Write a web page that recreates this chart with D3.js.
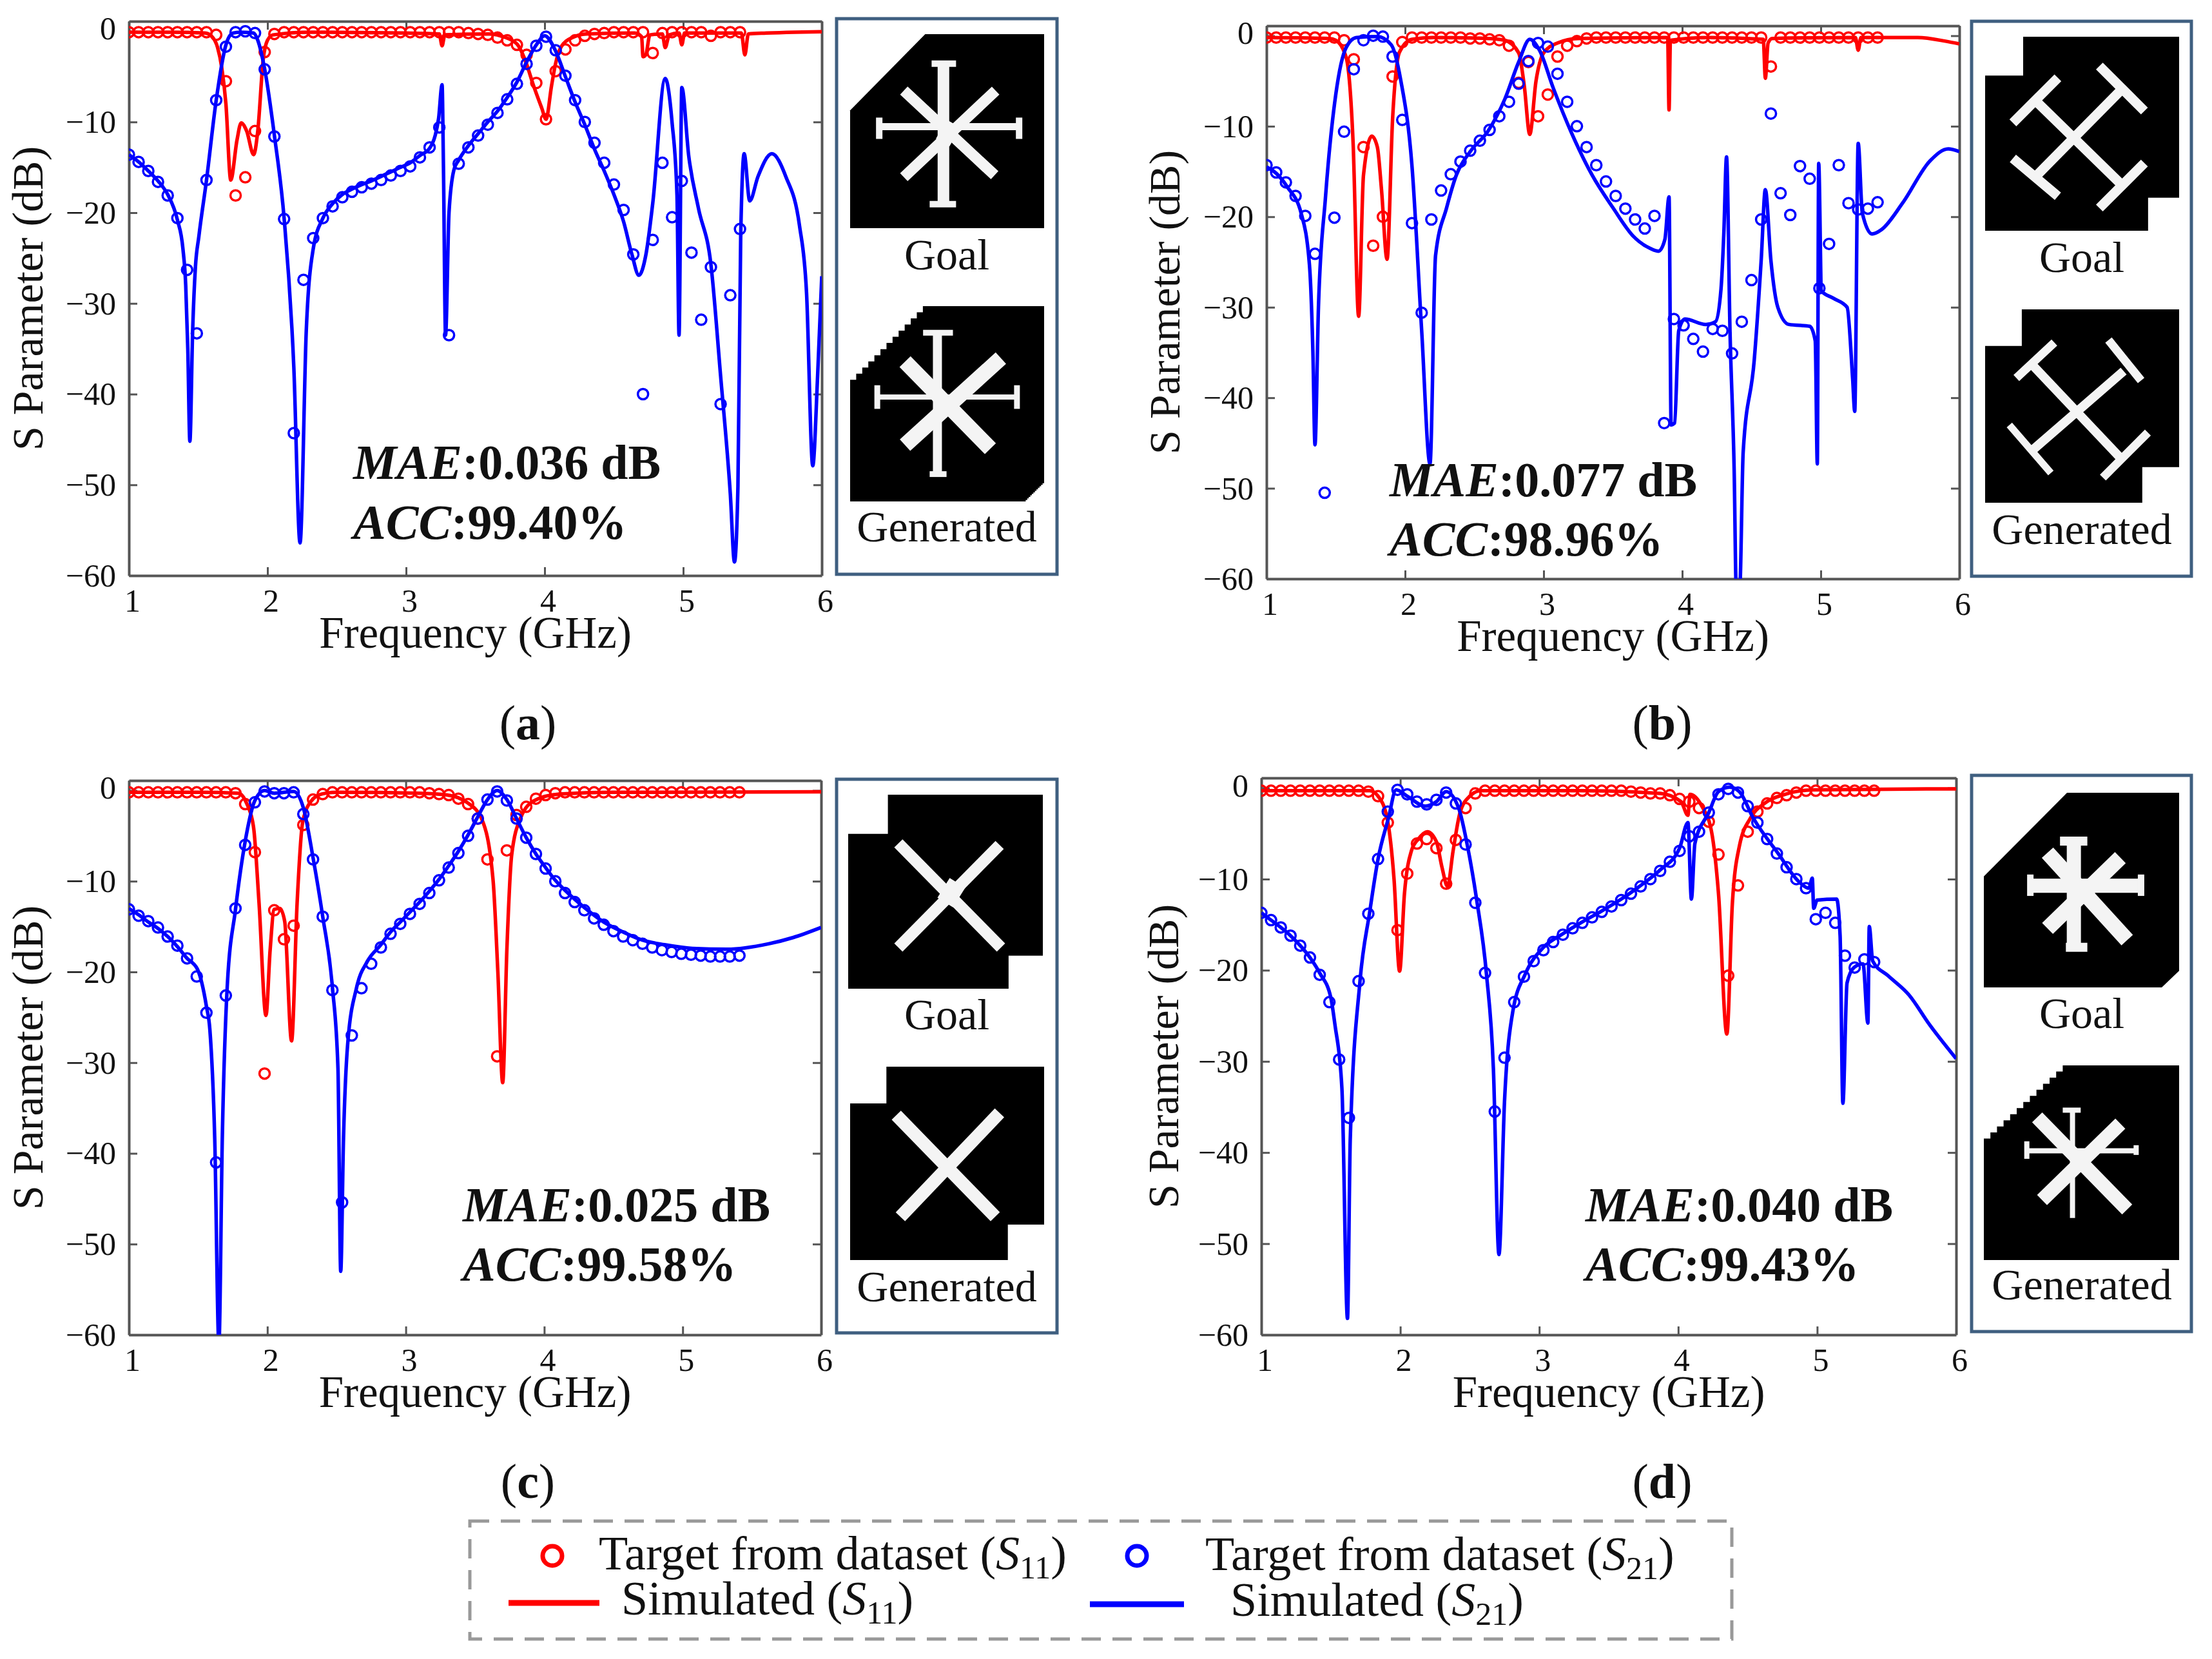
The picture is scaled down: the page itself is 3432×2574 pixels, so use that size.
<!DOCTYPE html>
<html>
<head>
<meta charset="utf-8">
<script src="https://d3js.org/d3.v7.min.js"></script>
<style>
  body { margin: 0; background: #fff; }
  text { font-family: "Liberation Serif", serif; fill: #111; }
</style>
</head>
<body>
<svg id="fig" width="3432" height="2574"></svg>
<script>
// values: frequency in GHz, level in dB
const xTicks = [1, 2, 3, 4, 5, 6];
const yTicks = [0, -10, -20, -30, -40, -50, -60];
const targetFreq = [1.00,1.07,1.14,1.21,1.28,1.35,1.42,1.49,1.56,1.63,1.70,1.77,1.84,1.91,1.98,2.05,2.12,2.19,2.26,2.33,2.40,2.47,2.54,2.61,2.68,2.75,2.82,2.89,2.96,3.03,3.10,3.17,3.24,3.31,3.38,3.45,3.52,3.59,3.66,3.73,3.80,3.87,3.94,4.01,4.08,4.15,4.22,4.29,4.36,4.43,4.50,4.57,4.64,4.71,4.78,4.85,4.92,4.99,5.06,5.13,5.20,5.27,5.34,5.41];

// panel (a)
const aS21Target = [-13.6,-14.4,-15.4,-16.6,-18.1,-20.6,-26.3,-33.3,-16.4,-7.6,-1.7,-0.1,0,-0.2,-4.2,-11.6,-20.7,-44.3,-27.4,-22.8,-20.6,-19.3,-18.3,-17.7,-17.2,-16.8,-16.4,-15.9,-15.4,-14.9,-13.9,-12.8,-10.6,-33.5,-14.6,-12.8,-11.5,-10.3,-9,-7.5,-5.8,-3.6,-1.6,-0.6,-2.1,-4.9,-7.6,-10,-12.3,-14.5,-16.9,-19.7,-24.6,-40,-23,-14.5,-20.5,-16.5,-24.4,-31.8,-26,-41.1,-29.1,-21.8];
const aS11Target = [-0.1,-0.1,-0.1,-0.1,-0.1,-0.1,-0.1,-0.1,-0.1,-0.4,-5.5,-18.1,-16.1,-11,-2.3,-0.3,-0.1,-0.1,-0.1,-0.1,-0.1,-0.1,-0.1,-0.1,-0.1,-0.1,-0.1,-0.1,-0.1,-0.1,-0.1,-0.1,-0.1,-0.1,-0.1,-0.2,-0.3,-0.4,-0.7,-1,-1.5,-2.6,-5.7,-9.7,-4.4,-2,-1,-0.5,-0.3,-0.2,-0.1,-0.1,-0.1,-0.1,-2.4,-0.2,-0.1,-0.1,-0.1,-0.1,-0.5,-0.1,-0.1,-0.1];
const aS21Sim = [[1,-13.6],[1.07,-14.4],[1.14,-15.4],[1.21,-16.5],[1.28,-18],[1.35,-20.8],[1.39,-24],[1.41,-28],[1.425,-35],[1.44,-45.2],[1.46,-33],[1.48,-26],[1.505,-22.6],[1.56,-16.4],[1.63,-7.6],[1.70,-1.5],[1.75,-0.2],[1.8,-0.1],[1.9,-0.2],[1.93,-1],[1.98,-4.2],[2.05,-11.5],[2.12,-20.6],[2.19,-37],[2.235,-56.4],[2.28,-33],[2.33,-24],[2.40,-20.6],[2.47,-19],[2.54,-18],[2.61,-17.4],[2.68,-16.9],[2.75,-16.5],[2.82,-16],[2.89,-15.5],[2.96,-15],[3.03,-14.5],[3.10,-13.7],[3.17,-12.9],[3.21,-11.5],[3.235,-9.6],[3.26,-5.9],[3.27,-15],[3.285,-33.5],[3.31,-20],[3.345,-15.3],[3.38,-14.2],[3.45,-12.6],[3.52,-11.3],[3.59,-10],[3.66,-8.8],[3.73,-7.3],[3.80,-5.6],[3.87,-3.4],[3.94,-1.5],[4.0,-0.5],[4.08,-2.2],[4.15,-5],[4.22,-7.8],[4.29,-10.3],[4.36,-13],[4.43,-15.4],[4.50,-18],[4.57,-21],[4.63,-24.6],[4.68,-26.9],[4.73,-24.7],[4.78,-19],[4.87,-5.2],[4.92,-10.1],[4.955,-18],[4.97,-33.5],[4.99,-6.2],[5.04,-13.75],[5.11,-19.5],[5.20,-25.7],[5.27,-38],[5.34,-51],[5.37,-58.5],[5.395,-50.2],[5.415,-22.6],[5.44,-13.5],[5.48,-18.7],[5.54,-16],[5.64,-13.5],[5.74,-16],[5.84,-21.5],[5.89,-28.8],[5.935,-47.9],[5.97,-38],[6,-27]];
const aS11Sim = [[1,-0.1],[1.3,-0.1],[1.55,-0.2],[1.60,-0.6],[1.64,-1.8],[1.67,-4],[1.70,-8],[1.735,-16.4],[1.78,-12],[1.81,-10.1],[1.85,-11],[1.90,-13.6],[1.93,-11],[1.97,-3],[2.0,-1],[2.04,-0.4],[2.3,-0.1],[3.0,-0.2],[3.24,-0.3],[3.26,-1.6],[3.28,-0.4],[3.6,-0.3],[3.7,-0.6],[3.8,-1.4],[3.86,-3.2],[3.92,-6],[3.98,-8.5],[4.01,-9.7],[4.05,-6],[4.08,-3.5],[4.12,-1.7],[4.2,-0.7],[4.3,-0.3],[4.65,-0.2],[4.70,-0.6],[4.71,-2.8],[4.73,-2.6],[4.76,-0.4],[4.85,-0.3],[4.87,-1.8],[4.9,-0.4],[4.97,-0.2],[4.99,-1.5],[5.01,-0.2],[5.42,-0.2],[5.445,-2.6],[5.47,-0.3],[5.6,-0.2],[5.8,-0.1],[6,-0.05]];

// panel (b)
const bS21Target = [-14.3,-15.1,-16.2,-17.7,-19.9,-24.1,-50.5,-20.1,-10.6,-3.7,-0.5,0,-0.1,-2.3,-9.3,-20.7,-30.6,-20.3,-17.1,-15.3,-13.9,-12.7,-11.6,-10.4,-8.9,-7.3,-5.3,-2.8,-0.8,-1.2,-4.2,-7.3,-10,-12.3,-14.3,-16.1,-17.7,-19.1,-20.3,-21.3,-19.9,-42.8,-31.3,-32,-33.5,-34.9,-32.4,-32.6,-35.1,-31.6,-27,-20.3,-8.6,-17.4,-19.8,-14.4,-15.8,-27.9,-23,-14.3,-18.5,-19.2,-19.1,-18.4];
const bS11Target = [-0.2,-0.2,-0.2,-0.2,-0.2,-0.2,-0.2,-0.2,-0.5,-2.6,-12.3,-23.2,-20,-4.5,-0.7,-0.2,-0.2,-0.2,-0.2,-0.2,-0.2,-0.3,-0.3,-0.4,-0.5,-1.1,-5.2,-2.9,-8.9,-6.5,-2.3,-1.1,-0.6,-0.3,-0.2,-0.2,-0.2,-0.2,-0.2,-0.2,-0.2,-0.2,-0.2,-0.2,-0.2,-0.2,-0.2,-0.2,-0.2,-0.2,-0.2,-0.2,-3.4,-0.2,-0.2,-0.2,-0.2,-0.2,-0.2,-0.2,-0.2,-0.2,-0.2,-0.2];
const bS21Sim = [[1,-14.5],[1.07,-15.2],[1.15,-16.7],[1.25,-19.6],[1.31,-25.3],[1.335,-35],[1.35,-45.2],[1.375,-30],[1.425,-18],[1.50,-6.5],[1.575,-1.3],[1.65,-0.2],[1.8,-0.1],[1.9,-1],[1.97,-5],[2.05,-14.4],[2.12,-32.6],[2.18,-47.3],[2.22,-24.3],[2.30,-19],[2.37,-15.4],[2.47,-12.8],[2.6,-10.5],[2.72,-7],[2.82,-2.9],[2.90,-0.4],[2.97,-1.6],[3.07,-5.8],[3.2,-10.7],[3.35,-15.4],[3.5,-19],[3.65,-22.2],[3.77,-23.5],[3.83,-23.8],[3.875,-22.5],[3.905,-17.8],[3.92,-43],[3.945,-42.8],[3.975,-32.6],[4.02,-31.3],[4.17,-31.9],[4.24,-31.6],[4.28,-28],[4.30,-22],[4.32,-13.4],[4.345,-32.7],[4.375,-48],[4.39,-61],[4.415,-61],[4.44,-46],[4.52,-35.8],[4.57,-24.8],[4.60,-17],[4.64,-24.8],[4.69,-30],[4.77,-31.9],[4.92,-32.1],[4.96,-33.7],[4.975,-47.3],[4.985,-14.1],[5.005,-28.2],[5.09,-29],[5.19,-30],[5.23,-37.9],[5.245,-41.5],[5.27,-11.9],[5.30,-19.6],[5.37,-21.9],[5.44,-21.4],[5.59,-18.5],[5.79,-13.8],[5.92,-12.5],[6,-12.8]];
const bS11Sim = [[1,-0.2],[1.45,-0.3],[1.5,-0.5],[1.575,-2.4],[1.625,-11.8],[1.665,-31],[1.70,-15.4],[1.76,-11.1],[1.8,-12.3],[1.83,-17],[1.87,-24.7],[1.91,-9.2],[1.96,-1.8],[2.05,-0.4],[2.2,-0.2],[2.6,-0.3],[2.72,-0.5],[2.82,-1.9],[2.86,-5.5],[2.9,-10.9],[2.945,-5],[3.0,-1.9],[3.1,-0.8],[3.25,-0.3],[3.895,-0.2],[3.905,-8.2],[3.915,-0.5],[4.2,-0.2],[4.585,-0.4],[4.6,-4.7],[4.62,-0.8],[4.65,-0.3],[5.25,-0.2],[5.27,-1.6],[5.29,-0.2],[5.7,-0.2],[5.9,-0.6],[6,-0.9]];

// panel (c)
const cS21Target = [-13.1,-13.8,-14.4,-15.1,-16.1,-17.1,-18.5,-20.5,-24.5,-41,-22.6,-13,-6,-1.3,-0.1,-0.3,-0.3,-0.2,-2.6,-7.6,-13.9,-22,-45.4,-27,-21.8,-19.1,-17.3,-15.8,-14.7,-13.6,-12.5,-11.3,-9.9,-8.5,-6.9,-5,-3.1,-1,-0.1,-1.1,-3.1,-5.2,-7,-8.6,-10,-11.3,-12.3,-13.2,-14.1,-14.8,-15.5,-16.1,-16.5,-16.9,-17.3,-17.6,-17.8,-18,-18.1,-18.2,-18.3,-18.3,-18.3,-18.2];
const cS11Target = [-0.2,-0.2,-0.2,-0.2,-0.2,-0.2,-0.2,-0.2,-0.2,-0.2,-0.2,-0.3,-1.5,-6.8,-31.2,-13.2,-16.4,-14.9,-3.8,-1,-0.4,-0.2,-0.2,-0.2,-0.2,-0.2,-0.2,-0.2,-0.2,-0.2,-0.2,-0.3,-0.4,-0.5,-0.9,-1.5,-3.1,-7.6,-29.3,-6.6,-2.7,-1.8,-0.9,-0.5,-0.3,-0.2,-0.2,-0.2,-0.2,-0.2,-0.2,-0.2,-0.2,-0.2,-0.2,-0.2,-0.2,-0.2,-0.2,-0.2,-0.2,-0.2,-0.2,-0.2];
const cS21Sim = [[1,-13],[1.07,-13.7],[1.14,-14.5],[1.21,-15.2],[1.28,-16.1],[1.35,-17.2],[1.42,-18.5],[1.495,-19.7],[1.56,-23.8],[1.585,-26.4],[1.62,-38.4],[1.65,-61],[1.675,-38],[1.71,-21.7],[1.77,-13.1],[1.84,-5.6],[1.91,-1.1],[1.98,0],[2.05,-0.3],[2.19,-0.1],[2.26,-1.9],[2.33,-7.4],[2.40,-13.9],[2.47,-21.7],[2.51,-30.6],[2.53,-53],[2.55,-38.4],[2.58,-28],[2.645,-21.7],[2.72,-18.9],[2.82,-17],[2.89,-15.6],[2.96,-14.5],[3.03,-13.4],[3.10,-12.3],[3.17,-11.1],[3.24,-9.8],[3.31,-8.3],[3.38,-6.7],[3.45,-4.9],[3.52,-2.9],[3.59,-1],[3.66,0],[3.73,-1],[3.80,-3.1],[3.87,-5.2],[3.94,-7],[4.01,-8.5],[4.08,-9.9],[4.15,-11],[4.29,-12.9],[4.43,-14.5],[4.57,-15.6],[4.71,-16.5],[4.87,-17],[5.07,-17.4],[5.32,-17.5],[5.62,-16.9],[5.8,-16.2],[6,-15.1]];
const cS11Sim = [[1,-0.2],[1.5,-0.2],[1.79,-0.3],[1.85,-1.4],[1.9,-4],[1.94,-12.4],[1.99,-24.8],[2.02,-17.6],[2.05,-13.1],[2.09,-13],[2.125,-14.4],[2.175,-27.6],[2.215,-12.4],[2.255,-3.5],[2.32,-1.1],[2.39,-0.4],[2.5,-0.2],[3.1,-0.3],[3.3,-0.5],[3.45,-1.4],[3.55,-3.2],[3.63,-9.8],[3.665,-20],[3.70,-32.2],[3.73,-17.6],[3.765,-7.1],[3.83,-3],[3.93,-1.1],[4.11,-0.4],[4.5,-0.2],[6,-0.15]];

// panel (d)
const dS21Target = [-13.7,-14.5,-15.3,-16.2,-17.3,-18.6,-20.5,-23.5,-29.8,-36.2,-21.2,-13.8,-7.8,-2.6,-0.2,-0.7,-1.5,-1.8,-1.3,-0.5,-1.7,-6.2,-12.6,-20.3,-35.5,-29.6,-23.5,-20.7,-19,-17.8,-16.9,-16.1,-15.4,-14.8,-14.2,-13.6,-13,-12.3,-11.6,-10.8,-10,-9.1,-8.1,-6.9,-5.3,-4.8,-2.7,-0.7,-0.1,-0.5,-2,-3.8,-5.6,-7.2,-8.7,-10,-11,-14.4,-13.7,-14.8,-18.4,-19.7,-18.8,-19.1];
const dS11Target = [-0.3,-0.3,-0.3,-0.3,-0.3,-0.3,-0.3,-0.3,-0.3,-0.3,-0.3,-0.4,-0.9,-3.8,-15.6,-9.4,-6.1,-5.6,-6.6,-10.5,-5.7,-2.2,-0.6,-0.3,-0.3,-0.3,-0.3,-0.3,-0.3,-0.3,-0.3,-0.3,-0.3,-0.3,-0.3,-0.3,-0.3,-0.3,-0.4,-0.5,-0.6,-0.6,-0.8,-1.2,-1.5,-2.2,-3.7,-7.3,-20.6,-10.7,-4.8,-2.6,-1.7,-1.1,-0.8,-0.5,-0.3,-0.3,-0.3,-0.3,-0.3,-0.3,-0.3,-0.3];
const dS21Sim = [[1,-13.7],[1.07,-14.5],[1.14,-15.3],[1.21,-16.2],[1.28,-17.3],[1.35,-18.6],[1.42,-20.3],[1.5,-23],[1.53,-26],[1.58,-33],[1.62,-58.2],[1.64,-38.5],[1.71,-21.2],[1.78,-13.6],[1.84,-7.8],[1.915,-3.3],[1.97,-0.2],[2.05,-0.9],[2.18,-2],[2.26,-1.5],[2.33,-0.4],[2.42,-2.2],[2.48,-6.1],[2.55,-12.3],[2.62,-20.4],[2.67,-30.8],[2.71,-51.2],[2.75,-34.4],[2.81,-24.5],[2.9,-20.4],[3.03,-17.5],[3.17,-16],[3.31,-14.7],[3.45,-13.5],[3.59,-12.2],[3.73,-10.7],[3.87,-9],[4.01,-6.6],[4.07,-3.8],[4.095,-12.2],[4.12,-6.1],[4.22,-2.7],[4.29,-0.4],[4.37,0.1],[4.44,-0.4],[4.54,-3.3],[4.72,-7.2],[4.87,-10.3],[4.94,-11],[4.965,-9.9],[4.975,-13.2],[5.0,-12.3],[5.14,-12.2],[5.165,-16.2],[5.185,-34.6],[5.215,-21.4],[5.265,-19.7],[5.33,-19.3],[5.365,-25.8],[5.375,-15.2],[5.40,-19],[5.51,-20.6],[5.66,-22.7],[5.81,-26],[6,-29.7]];
const dS11Sim = [[1,-0.3],[1.4,-0.3],[1.78,-0.3],[1.84,-0.9],[1.905,-3.3],[1.955,-10],[1.995,-20.1],[2.03,-11.6],[2.08,-6.9],[2.13,-5.6],[2.195,-4.8],[2.26,-5.9],[2.30,-8.7],[2.34,-10.8],[2.38,-6.9],[2.43,-2.7],[2.5,-0.9],[2.58,-0.3],[3.3,-0.3],[3.87,-0.6],[4.02,-1.5],[4.07,-3],[4.085,-0.7],[4.17,-2],[4.24,-4.8],[4.29,-11.6],[4.35,-27],[4.39,-12.6],[4.44,-6.4],[4.52,-3.3],[4.62,-1.7],[4.77,-0.7],[4.97,-0.2],[6,-0.1]];

const maeLabels = [":0.036 dB", ":0.077 dB", ":0.025 dB", ":0.040 dB"];
const accLabels = [":99.40%", ":98.96%", ":99.58%", ":99.43%"];
const panelNames = ["a", "b", "c", "d"];

// panel layout in pixels of the full figure
const panels = [
  {x0:200, x1:1275, y0:33, y1:893, s21t:aS21Target, s11t:aS11Target, s21:aS21Sim, s11:aS11Sim, noteX:548, noteY:[743,836], capX:819, capY:1147,
   box:[1298,29,1640,891], goalRect:[1319,53,1620,354], genRect:[1319,475,1620,778], labelX:1469, labelY:[418,840], ylabX:66},
  {x0:1965, x1:3040, y0:40, y1:898, s21t:bS21Target, s11t:bS11Target, s21:bS21Sim, s11:bS11Sim, noteX:2156, noteY:[770,862], capX:2579, capY:1147,
   box:[3059,33,3400,894], goalRect:[3080,57,3381,358], genRect:[3080,480,3381,780], labelX:3230, labelY:[422,844], ylabX:1830},
  {x0:200, x1:1274, y0:1211, y1:2071, s21t:cS21Target, s11t:cS11Target, s21:cS21Sim, s11:cS11Sim, noteX:718, noteY:[1895,1987], capX:819, capY:2324,
   box:[1298,1209,1640,2068], goalRect:[1316,1233,1618,1534], genRect:[1319,1655,1620,1955], labelX:1469, labelY:[1597,2019], ylabX:66},
  {x0:1957, x1:3035, y0:1207, y1:2071, s21t:dS21Target, s11t:dS11Target, s21:dS21Sim, s11:dS11Sim, noteX:2460, noteY:[1895,1987], capX:2579, capY:2324,
   box:[3059,1203,3400,2066], goalRect:[3078,1230,3381,1532], genRect:[3078,1653,3381,1955], labelX:3230, labelY:[1595,2016], ylabX:1828}
];

// inset pictures: outline corners and white strokes in 0..1 of the picture
const aGoalOutline = [[.387,0],[1,0],[1,1],[0,1],[0,.393]];
const aGoalStrokes = [[.481,.152,.481,.876,18],[.42,.152,.546,.152,10],[.41,.876,.546,.876,10],[.15,.477,.871,.477,11],[.15,.43,.15,.54,10],[.871,.43,.871,.54,10],[.277,.291,.745,.727,17],[.277,.737,.75,.291,17],[.47,.49,.54,.53,34]];
const aGenOutline = [[.375,0],[1,0],[1,.907],[.905,1],[0,1],[0,.377]];
const aGenStrokes = [[.45,.136,.45,.86,14],[.376,.136,.53,.136,9],[.41,.86,.497,.86,9],[.14,.465,.86,.465,8],[.14,.405,.14,.526,9],[.86,.405,.86,.526,9],[.283,.284,.723,.73,24],[.777,.266,.283,.712,24]];
const bGoalOutline = [[.196,0],[1,0],[1,.83],[.84,.83],[.84,1],[0,1],[0,.2],[.196,.2]];
const bGoalStrokes = [[.589,.151,.821,.383,15],[.375,.212,.143,.444,15],[.143,.627,.375,.822,15],[.821,.651,.589,.883,15],[.257,.327,.707,.766,15],[.707,.268,.257,.724,15]];
const bGenOutline = [[.189,0],[1,0],[1,.816],[.81,.816],[.81,1],[0,1],[0,.189],[.189,.189]];
const bGenStrokes = [[.636,.159,.804,.368,13],[.357,.172,.161,.355,13],[.125,.598,.339,.846,11],[.839,.637,.607,.87,13],[.25,.294,.714,.786,14],[.714,.319,.25,.723,14]];
const cGoalOutline = [[.204,0],[1,0],[1,.83],[.824,.83],[.824,1],[0,1],[0,.202],[.204,.202]];
const cGoalStrokes = [[.258,.251,.785,.788,18],[.778,.259,.258,.788,18],[.49,.48,.57,.53,36]];
const cGenOutline = [[.187,0],[1,0],[1,.817],[.813,.817],[.813,1],[0,1],[0,.19],[.187,.19]];
const cGenStrokes = [[.238,.251,.748,.776,20],[.77,.239,.259,.776,20]];
const dGoalOutline = [[.426,0],[1,0],[1,.915],[.911,1],[0,1],[0,.43]];
const dGoalStrokes = [[.461,.248,.461,.794,22],[.39,.248,.53,.248,14],[.42,.794,.53,.794,14],[.238,.478,.805,.478,22],[.238,.42,.238,.53,10],[.805,.42,.805,.53,10],[.326,.308,.734,.757,24],[.699,.333,.326,.697,24]];
const dGenOutline = [[.404,0],[1,0],[1,1],[0,1],[0,.376]];
const dGenStrokes = [[.454,.23,.454,.784,8],[.404,.23,.496,.23,8],[.22,.439,.78,.439,8],[.22,.39,.22,.48,8],[.78,.41,.78,.46,8],[.273,.267,.734,.74,22],[.699,.299,.298,.692,22]];
const insets = [
  [aGoalOutline, aGoalStrokes, aGenOutline, aGenStrokes, true],
  [bGoalOutline, bGoalStrokes, bGenOutline, bGenStrokes, false],
  [cGoalOutline, cGoalStrokes, cGenOutline, cGenStrokes, false],
  [dGoalOutline, dGoalStrokes, dGenOutline, dGenStrokes, true]
];

const svg = d3.select("#fig");
const RED = "#ff0000", BLUE = "#0000ff", FRAME = "#555";

panels.forEach((p, idx) => {
  const g = svg.append("g");
  const x = d3.scaleLinear().domain([1, 6]).range([p.x0, p.x1]);
  const y = d3.scaleLinear().domain([-60, 1.1]).range([p.y1, p.y0]);
  const clipId = "clip" + idx;
  svg.append("clipPath").attr("id", clipId).append("rect")
    .attr("x", p.x0).attr("y", p.y0).attr("width", p.x1 - p.x0).attr("height", p.y1 - p.y0);

  const line = d3.line().x(d => x(d[0])).y(d => y(d[1])).curve(d3.curveMonotoneX);

  // frame and inward ticks
  const bottom = g.append("g").attr("transform", `translate(0,${p.y1})`)
    .call(d3.axisBottom(x).tickValues(xTicks).tickFormat(d3.format("d")).tickSizeInner(-13).tickSizeOuter(0));
  const left = g.append("g").attr("transform", `translate(${p.x0},0)`)
    .call(d3.axisLeft(y).tickValues(yTicks).tickFormat(d3.format("d")).tickSizeInner(-13).tickSizeOuter(0));
  const top = g.append("g").attr("transform", `translate(0,${p.y0})`)
    .call(d3.axisTop(x).tickValues(xTicks).tickSizeInner(-13).tickSizeOuter(0));
  const right = g.append("g").attr("transform", `translate(${p.x1},0)`)
    .call(d3.axisRight(y).tickValues(yTicks).tickSizeInner(-13).tickSizeOuter(0));
  top.selectAll("text").remove();
  right.selectAll("text").remove();
  g.selectAll(".domain").attr("stroke", FRAME).attr("stroke-width", 4);
  g.selectAll(".tick line").attr("stroke", FRAME).attr("stroke-width", 3);
  bottom.selectAll("text").attr("font-size", 50).attr("dy", 0).attr("y", 56).attr("x", 5)
    .style("font-family", "Liberation Serif");
  left.selectAll("text").attr("font-size", 50).attr("x", -20)
    .attr("y", d => d === 0 ? -4 : 0).attr("dy", "0.33em")
    .style("font-family", "Liberation Serif");

  const plot = g.append("g").attr("clip-path", `url(#${clipId})`);
  // red goes under blue
  plot.append("g").selectAll("circle").data(p.s11t).join("circle")
    .attr("cx", (d, i) => x(targetFreq[i])).attr("cy", d => y(d)).attr("r", 8)
    .attr("fill", "none").attr("stroke", RED).attr("stroke-width", 3.5);
  plot.append("path").datum(p.s11).attr("d", line).attr("fill", "none")
    .attr("stroke", RED).attr("stroke-width", 5.5);
  plot.append("path").datum(p.s21).attr("d", line).attr("fill", "none")
    .attr("stroke", BLUE).attr("stroke-width", 5.5);
  plot.append("g").selectAll("circle").data(p.s21t).join("circle")
    .attr("cx", (d, i) => x(targetFreq[i])).attr("cy", d => y(d)).attr("r", 8)
    .attr("fill", "none").attr("stroke", BLUE).attr("stroke-width", 3.5);

  // axis titles
  g.append("text").attr("x", (p.x0 + p.x1) / 2).attr("y", p.y1 + 112)
    .attr("text-anchor", "middle").attr("font-size", 69).text("Frequency (GHz)");
  g.append("text").attr("transform", `translate(${p.ylabX},${(p.y0 + p.y1) / 2}) rotate(-90)`)
    .attr("text-anchor", "middle").attr("font-size", 68).text("S Parameter (dB)");

  // MAE and ACC note
  [["MAE", maeLabels[idx]], ["ACC", accLabels[idx]]].forEach((n, k) => {
    const t = g.append("text").attr("x", p.noteX).attr("y", p.noteY[k])
      .attr("font-size", 76).attr("font-weight", "bold");
    t.append("tspan").attr("font-style", "italic").text(n[0]);
    t.append("tspan").text(n[1]);
  });

  // panel caption
  const cap = g.append("text").attr("x", p.capX).attr("y", p.capY)
    .attr("text-anchor", "middle").attr("font-size", 76);
  cap.append("tspan").text("(");
  cap.append("tspan").attr("font-weight", "bold").text(panelNames[idx]);
  cap.append("tspan").text(")");

  // inset box with the two pictures
  g.append("rect").attr("x", p.box[0]).attr("y", p.box[1])
    .attr("width", p.box[2] - p.box[0]).attr("height", p.box[3] - p.box[1])
    .attr("fill", "none").attr("stroke", "#3f5f80").attr("stroke-width", 5);
  const ins = insets[idx];
  drawPicture(g, p.goalRect, ins[0], ins[1], false);
  drawPicture(g, p.genRect, ins[2], ins[3], ins[4]);
  g.append("text").attr("x", p.labelX).attr("y", p.labelY[0]).attr("text-anchor", "middle")
    .attr("font-size", 68).text("Goal");
  g.append("text").attr("x", p.labelX).attr("y", p.labelY[1]).attr("text-anchor", "middle")
    .attr("font-size", 68).text("Generated");
});

// the generated pictures have jagged cut corners, the slanted edges become steps
function stepped(pts) {
  const out = [];
  pts.forEach((a, i) => {
    const b = pts[(i + 1) % pts.length];
    const slanted = a[0] !== b[0] && a[1] !== b[1];
    if (!slanted) { out.push(a); return; }
    const n = 12;
    for (let k = 0; k < n; k++) {
      const py = a[1] + (b[1] - a[1]) * k / n;
      out.push([a[0] + (b[0] - a[0]) * k / n, py]);
      out.push([a[0] + (b[0] - a[0]) * (k + 1) / n, py]);
    }
  });
  return out;
}

function drawPicture(g, rect, outline, strokes, jagged) {
  const ux = d3.scaleLinear().domain([0, 1]).range([rect[0], rect[2]]);
  const uy = d3.scaleLinear().domain([0, 1]).range([rect[1], rect[3]]);
  const pts = jagged ? stepped(outline) : outline;
  g.append("polygon").attr("fill", "#000")
    .attr("points", pts.map(d => ux(d[0]) + "," + uy(d[1])).join(" "));
  g.append("g").selectAll("line").data(strokes).join("line")
    .attr("x1", d => ux(d[0])).attr("y1", d => uy(d[1]))
    .attr("x2", d => ux(d[2])).attr("y2", d => uy(d[3]))
    .attr("stroke", "#f4f4f4").attr("stroke-width", d => d[4]);
}

// legend
const legend = svg.append("g");
legend.append("rect").attr("x", 729).attr("y", 2360).attr("width", 1958).attr("height", 183)
  .attr("fill", "none").attr("stroke", "#999").attr("stroke-width", 5).attr("stroke-dasharray", "30 18");
legend.append("circle").attr("cx", 857).attr("cy", 2414).attr("r", 15)
  .attr("fill", "none").attr("stroke", RED).attr("stroke-width", 7);
legend.append("circle").attr("cx", 1764).attr("cy", 2414).attr("r", 15)
  .attr("fill", "none").attr("stroke", BLUE).attr("stroke-width", 7);
legend.append("line").attr("x1", 789).attr("x2", 930).attr("y1", 2487).attr("y2", 2487)
  .attr("stroke", RED).attr("stroke-width", 9);
legend.append("line").attr("x1", 1691).attr("x2", 1837).attr("y1", 2489).attr("y2", 2489)
  .attr("stroke", BLUE).attr("stroke-width", 9);

function legendText(px, py, label, sub) {
  const t = legend.append("text").attr("x", px).attr("y", py).attr("font-size", 74);
  t.append("tspan").text(label + " (");
  t.append("tspan").attr("font-style", "italic").text("S");
  t.append("tspan").attr("font-size", 50).attr("dy", 14).text(sub);
  t.append("tspan").attr("dy", -14).text(")");
}
legendText(929, 2435, "Target from dataset", "11");
legendText(1870, 2436, "Target from dataset", "21");
legendText(964, 2505, "Simulated", "11");
legendText(1909, 2507, "Simulated", "21");
</script>
</body>
</html>
